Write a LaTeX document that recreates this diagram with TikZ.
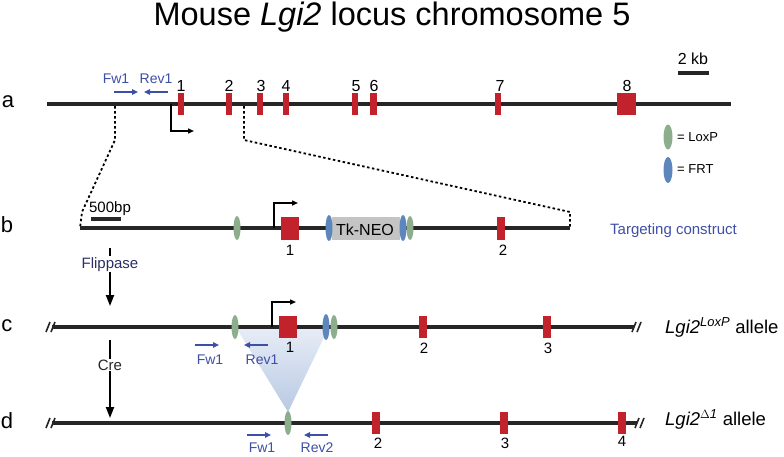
\documentclass[tikz,border=0pt]{standalone}
\usepackage{fontspec}
\setmainfont{Liberation Sans}
\usetikzlibrary{shapes.geometric,arrows.meta}
\definecolor{exred}{HTML}{C1222B}
\definecolor{loxg}{HTML}{8DAE8C}
\definecolor{frtb}{HTML}{5C86BC}
\definecolor{tkgray}{HTML}{C4C4C4}
\definecolor{chrom}{HTML}{262626}
\definecolor{primerblue}{HTML}{3E4FA6}
\definecolor{navy}{HTML}{2B2F63}
\definecolor{tritop}{HTML}{E6ECF6}
\definecolor{tribot}{HTML}{B8C9E3}
\tikzset{
  chromline/.style={line width=4pt, draw=chrom},
  exon/.style={rectangle, fill=exred, inner sep=0pt, minimum width=#1, minimum height=22pt},
  exon/.default=6pt,
  lox/.style={ellipse, fill=loxg, inner sep=0pt, minimum width=7pt, minimum height=24pt},
  frt/.style={ellipse, fill=frtb, inner sep=0pt, minimum width=7pt, minimum height=26pt},
  exnum/.style={inner sep=0pt, font=\fontsize{15}{18}\selectfont},
  exnumA/.style={inner sep=0pt, font=\fontsize{16}{19}\selectfont},
  primer/.style={draw=primerblue, line width=1.5pt, -{Triangle[length=6pt,width=5.5pt]}},
  primerlab/.style={inner sep=0pt, text=primerblue, font=\fontsize{14}{17}\selectfont},
  prom/.style={draw=black, line width=1.4pt, -{Triangle[length=6pt,width=5pt]}},
  zoomline/.style={draw=black, line width=1.8pt, dash pattern=on 2.5pt off 2.5pt},
  steparrow/.style={draw=black, line width=2pt, -{Triangle[length=11pt,width=8pt]}},
  stepl/.style={fill=white, inner sep=1pt, anchor=base, font=\fontsize{15}{18}\selectfont},
  rowlab/.style={inner sep=0pt, anchor=base, font=\fontsize{22}{26}\selectfont},
  brk/.style={draw=chrom, line width=1.6pt},
  scalebar/.style={draw=chrom, line width=3.5pt},
}
\begin{document}
\begin{tikzpicture}[x=1pt,y=-1pt]
\useasboundingbox[fill=white] (0,0) rectangle (784,456);

% title
\node[inner sep=0pt, anchor=base, font=\fontsize{32.5}{38}\selectfont] (title) at (392,25) {Mouse \textit{Lgi2} locus chromosome 5};

% row labels
\node[rowlab] (la) at (8,107) {a};
\node[rowlab] (lb) at (7,232) {b};
\node[rowlab] (lc) at (7,331) {c};
\node[rowlab] (ld) at (7,428) {d};

% ---------- row a ----------
\coordinate (as) at (47,104);
\coordinate (ae) at (731,104);
\draw[chromline] (as) -- (ae);
\node[exon] (a1) at (181,104) {};
\node[exon] (a2) at (229,104) {};
\node[exon] (a3) at (260,104) {};
\node[exon] (a4) at (286,104) {};
\node[exon] (a5) at (355,104) {};
\node[exon=7pt] (a6) at (373,104) {};
\node[exon] (a7) at (498,104) {};
\node[exon=19pt] (a8) at (626,104) {};
\node[exnumA] (n1) at (181,86) {1};
\node[exnumA] (n2) at (229,86) {2};
\node[exnumA] (n3) at (261,86) {3};
\node[exnumA] (n4) at (286,86) {4};
\node[exnumA] (n5) at (356,86) {5};
\node[exnumA] (n6) at (374,86) {6};
\node[exnumA] (n7) at (500,86) {7};
\node[exnumA] (n8) at (627,86) {8};
\coordinate (afw1s) at (114,92); \coordinate (afw1e) at (138,92);
\coordinate (arv1s) at (168,92); \coordinate (arv1e) at (144,92);
\draw[primer] (afw1s) -- (afw1e);
\draw[primer] (arv1s) -- (arv1e);
\node[primerlab] (afw1) at (116,79) {Fw1};
\node[primerlab] (arv1) at (156,79) {Rev1};
\coordinate (aps) at (171,104); \coordinate (ape) at (194,131);
\draw[prom] (aps) |- (ape);
% scale bar
\coordinate (sb1) at (678,73); \coordinate (sb2) at (709,73);
\draw[scalebar] (sb1) -- (sb2);
\node[inner sep=0pt, anchor=base, font=\fontsize{16}{19}\selectfont] (kb) at (693,64) {2 kb};
% legend
\node[lox, minimum width=9pt, minimum height=25pt] (leglox) at (668,137) {};
\node[frt, minimum width=9pt, minimum height=26pt] (legfrt) at (668,170) {};
\node[inner sep=0pt, anchor=base west, font=\fontsize{13}{16}\selectfont] (tlox) at (677,141) {= LoxP};
\node[inner sep=0pt, anchor=base west, font=\fontsize{13}{16}\selectfont] (tfrt) at (677,173) {= FRT};

% ---------- row b ----------
\coordinate (bs) at (80,228);
\coordinate (be) at (570,228);
\draw[zoomline] (115,106) -- (115,140) -- (82,212) -- (bs);
\draw[zoomline] (244,106) -- (244,140) -- (570,212) -- (be);
\draw[chromline] (bs) -- (be);
\coordinate (sbb1) at (91,219); \coordinate (sbb2) at (121,219);
\draw[scalebar] (sbb1) -- (sbb2);
\node[inner sep=0pt, anchor=base, font=\fontsize{15}{18}\selectfont] (bp) at (110,212) {500bp};
\node[lox] (blox1) at (237,228) {};
\node[rectangle, fill=tkgray, inner sep=0pt, minimum width=68pt, minimum height=23pt] (tk) at (366,228) {};
\node[inner sep=0pt, anchor=base, font=\fontsize{16}{19}\selectfont] (tkt) at (365,235) {Tk-NEO};
\node[frt] (bfrt1) at (329,228) {};
\node[frt] (bfrt2) at (403,228) {};
\node[lox] (blox2) at (410,228) {};
\coordinate (bps) at (274,228); \coordinate (bpe) at (298,203);
\draw[prom] (bps) |- (bpe);
\node[exon=18pt, minimum height=23pt] (b1) at (290,228) {};
\node[exon=8pt, minimum height=23pt] (b2) at (501,228) {};
\node[exnum] (bn1) at (290,250) {1};
\node[exnum] (bn2) at (503,250) {2};
\node[inner sep=0pt, anchor=base west, text=primerblue, font=\fontsize{15}{18}\selectfont] (tc) at (610,234) {Targeting construct};

% flippase / cre arrows
\coordinate (f1) at (110,248); \coordinate (f2) at (110,306);
\draw[steparrow] (f1) -- (f2);
\node[stepl, text=navy] (flp) at (110,268) {Flippase};
\coordinate (c1) at (110,340); \coordinate (c2) at (110,418);
\draw[steparrow] (c1) -- (c2);
\node[stepl, text=chrom] (cre) at (110,370) {Cre};

% deletion triangle
\coordinate (tl) at (237,329); \coordinate (tr) at (328,329); \coordinate (tb) at (288,412);
\shade[top color=tritop, bottom color=tribot] (tl) -- (tr) -- (tb) -- cycle;

% ---------- row c ----------
\coordinate (cs) at (52,327);
\coordinate (ce) at (634,327);
\draw[chromline] (cs) -- (ce);
\draw[brk] (46,332) -- (50,322); \draw[brk] (51,332) -- (55,322);
\draw[brk] (632,332) -- (636,322); \draw[brk] (637,332) -- (641,322);
\node[lox] (clox1) at (235,327) {};
\node[frt] (cfrt) at (326,327) {};
\node[lox] (clox2) at (334,327) {};
\coordinate (cps) at (272,327); \coordinate (cpe) at (296,302);
\draw[prom] (cps) |- (cpe);
\node[exon=18pt] (c1e) at (288,327) {};
\node[exon=8pt] (c2e) at (423,327) {};
\node[exon=8pt] (c3e) at (547,327) {};
\node[exnum] (cn1) at (290,347) {1};
\node[exnum] (cn2) at (424,348) {2};
\node[exnum] (cn3) at (548,348) {3};
\coordinate (cfs) at (195,345); \coordinate (cfe) at (219,345);
\coordinate (crs) at (268,345); \coordinate (cre2) at (244,345);
\draw[primer] (cfs) -- (cfe);
\draw[primer] (crs) -- (cre2);
\node[primerlab] (cfw1) at (210,360) {Fw1};
\node[primerlab] (crv1) at (262,360) {Rev1};
\node[inner sep=0pt, anchor=base west, font=\fontsize{18.5}{22}\selectfont] (lgc) at (665,333) {\textit{Lgi2\textsuperscript{LoxP}} allele};

% ---------- row d ----------
\coordinate (ds) at (52,423);
\coordinate (de) at (637,423);
\draw[chromline] (ds) -- (de);
\draw[brk] (46,428) -- (50,418); \draw[brk] (51,428) -- (55,418);
\draw[brk] (635,428) -- (639,418); \draw[brk] (640,428) -- (644,418);
\node[lox] (dlox) at (288,423) {};
\node[exon=8pt] (d2) at (376,423) {};
\node[exon=8pt] (d3) at (504,423) {};
\node[exon=8pt] (d4) at (622,423) {};
\node[exnum] (dn2) at (378,443) {2};
\node[exnum] (dn3) at (505,443) {3};
\node[exnum] (dn4) at (622,441) {4};
\coordinate (dfs) at (247,435); \coordinate (dfe) at (271,435);
\coordinate (drs) at (328,435); \coordinate (dre) at (304,435);
\draw[primer] (dfs) -- (dfe);
\draw[primer] (drs) -- (dre);
\node[primerlab] (dfw1) at (262,448) {Fw1};
\node[primerlab] (drv2) at (317,448) {Rev2};
\node[inner sep=0pt, anchor=base west, font=\fontsize{18.5}{22}\selectfont] (lgd) at (665,425) {\textit{Lgi2\textsuperscript{$\Delta$1}} allele};
\end{tikzpicture}
\end{document}
